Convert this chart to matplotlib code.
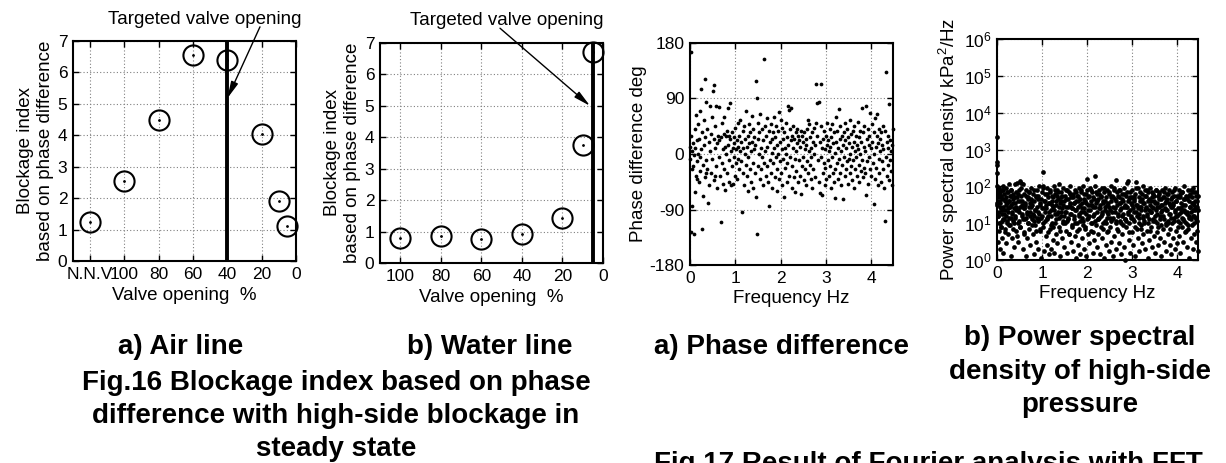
import numpy as np
import matplotlib
matplotlib.use("Agg")
import matplotlib.pyplot as plt

plt.rcParams['font.family'] = ['Liberation Sans', 'DejaVu Sans']
plt.rcParams['mathtext.fontset'] = 'custom'
plt.rcParams['mathtext.rm'] = 'Liberation Sans'
plt.rcParams['mathtext.it'] = 'Liberation Sans:italic'
plt.rcParams['axes.unicode_minus'] = False

# Fig.16 a) air line  (120 on the axis stands for "N.N.V")
air_opening = [120, 100, 80, 60, 40, 20, 10, 5]
air_index = [1.25, 2.55, 4.5, 6.55, 6.38, 4.05, 1.92, 1.12]
air_target = 40
air_ticks = [120, 100, 80, 60, 40, 20, 0]
air_ticklabels = ['N.N.V', '100', '80', '60', '40', '20', '0']

# Fig.16 b) water line
water_opening = [100, 80, 60, 40, 20, 10, 5]
water_index = [0.81, 0.87, 0.76, 0.93, 1.42, 3.76, 6.7]
water_target = 5
water_ticks = [100, 80, 60, 40, 20, 0]

# Fig.17 a) phase difference (Hz, deg)
phase_hz = [
    0.00, 0.01, 0.02, 0.02, 0.03, 0.04, 0.05, 0.06, 0.07, 0.08,
    0.09, 0.10, 0.11, 0.12, 0.13, 0.14, 0.15, 0.16, 0.17, 0.18,
    0.19, 0.20, 0.21, 0.22, 0.23, 0.24, 0.25, 0.26, 0.27, 0.28,
    0.29, 0.30, 0.31, 0.32, 0.33, 0.34, 0.35, 0.36, 0.37, 0.38,
    0.40, 0.41, 0.42, 0.44, 0.45, 0.46, 0.47, 0.48, 0.49, 0.51,
    0.52, 0.53, 0.54, 0.55, 0.56, 0.57, 0.58, 0.59, 0.60, 0.62,
    0.63, 0.64, 0.65, 0.66, 0.68, 0.69, 0.70, 0.71, 0.72, 0.73,
    0.74, 0.75, 0.76, 0.77, 0.78, 0.79, 0.80, 0.81, 0.82, 0.83,
    0.84, 0.85, 0.86, 0.87, 0.88, 0.89, 0.90, 0.91, 0.92, 0.93,
    0.94, 0.95, 0.96, 0.97, 0.98, 0.99, 1.00, 1.01, 1.02, 1.03,
    1.04, 1.05, 1.06, 1.07, 1.08, 1.09, 1.10, 1.11, 1.12, 1.13,
    1.15, 1.16, 1.17, 1.18, 1.19, 1.20, 1.21, 1.22, 1.23, 1.24,
    1.25, 1.26, 1.27, 1.28, 1.29, 1.30, 1.31, 1.32, 1.33, 1.34,
    1.35, 1.36, 1.37, 1.38, 1.39, 1.40, 1.41, 1.42, 1.43, 1.44,
    1.45, 1.46, 1.47, 1.48, 1.49, 1.50, 1.51, 1.52, 1.53, 1.54,
    1.55, 1.56, 1.57, 1.58, 1.59, 1.60, 1.61, 1.63, 1.64, 1.65,
    1.66, 1.67, 1.68, 1.69, 1.70, 1.71, 1.72, 1.74, 1.75, 1.76,
    1.77, 1.78, 1.79, 1.80, 1.81, 1.82, 1.83, 1.84, 1.85, 1.86,
    1.87, 1.88, 1.89, 1.90, 1.91, 1.92, 1.93, 1.94, 1.95, 1.96,
    1.97, 1.98, 1.99, 2.00, 2.01, 2.02, 2.03, 2.04, 2.05, 2.06,
    2.07, 2.08, 2.09, 2.10, 2.11, 2.12, 2.13, 2.14, 2.15, 2.16,
    2.17, 2.18, 2.19, 2.20, 2.21, 2.22, 2.23, 2.24, 2.25, 2.26,
    2.27, 2.28, 2.29, 2.30, 2.31, 2.32, 2.33, 2.34, 2.35, 2.36,
    2.37, 2.38, 2.39, 2.40, 2.41, 2.42, 2.43, 2.44, 2.46, 2.47,
    2.48, 2.49, 2.50, 2.51, 2.52, 2.53, 2.54, 2.55, 2.56, 2.57,
    2.58, 2.59, 2.60, 2.61, 2.62, 2.63, 2.64, 2.65, 2.66, 2.67,
    2.68, 2.69, 2.70, 2.71, 2.72, 2.73, 2.74, 2.75, 2.76, 2.77,
    2.79, 2.80, 2.81, 2.82, 2.84, 2.85, 2.86, 2.87, 2.88, 2.89,
    2.90, 2.91, 2.92, 2.93, 2.94, 2.95, 2.96, 2.97, 2.98, 2.99,
    3.00, 3.01, 3.02, 3.03, 3.04, 3.05, 3.06, 3.07, 3.08, 3.09,
    3.10, 3.11, 3.12, 3.13, 3.14, 3.15, 3.16, 3.17, 3.18, 3.19,
    3.20, 3.21, 3.22, 3.23, 3.24, 3.25, 3.26, 3.27, 3.28, 3.29,
    3.30, 3.31, 3.32, 3.33, 3.34, 3.35, 3.36, 3.37, 3.38, 3.39,
    3.40, 3.41, 3.42, 3.43, 3.44, 3.45, 3.46, 3.47, 3.48, 3.49,
    3.50, 3.51, 3.52, 3.53, 3.54, 3.55, 3.56, 3.57, 3.58, 3.59,
    3.60, 3.61, 3.62, 3.63, 3.64, 3.65, 3.66, 3.67, 3.68, 3.69,
    3.70, 3.71, 3.72, 3.73, 3.74, 3.75, 3.76, 3.77, 3.78, 3.79,
    3.80, 3.81, 3.82, 3.83, 3.84, 3.85, 3.86, 3.87, 3.88, 3.89,
    3.90, 3.91, 3.92, 3.93, 3.94, 3.95, 3.96, 3.97, 3.98, 3.99,
    4.00, 4.01, 4.02, 4.03, 4.05, 4.06, 4.07, 4.08, 4.09, 4.10,
    4.11, 4.12, 4.13, 4.14, 4.15, 4.16, 4.17, 4.18, 4.19, 4.20,
    4.21, 4.22, 4.23, 4.24, 4.25, 4.26, 4.27, 4.28, 4.30, 4.31,
    4.32, 4.33, 4.34, 4.35, 4.36, 4.37, 4.38, 4.39, 4.40, 4.41,
    4.42, 4.43, 4.44, 4.45, 4.46, 4.47, 0.05, 0.15, 0.35, 0.55,
]
phase_deg = [
    12, -8, 165, -127, 30, -84, 5, -20, 18, -2,
    -130, 40, -62, 10, 63, -35, 22, -12, 48, 0,
    -45, 25, -5, 70, -28, 105, 8, -122, 35, -18,
    -68, 15, 55, 121, -38, 28, -10, 85, 40, -25,
    -79, 20, -50, 78, 5, 32, -30, 60, -8, 102,
    25, 112, -42, 10, 45, -20, 78, 18, -55, 30,
    -5, 77, 22, -35, -110, 28, -15, 50, 8, -48,
    32, -25, 60, 12, -58, 30, 0, 38, -30, 75,
    15, -45, 30, -10, 82, 25, -50, 5, 35, -20,
    10, -48, 28, -5, 18, -35, 42, 8, -15, 22,
    -40, 12, 50, -8, 30, -25, 5, 55, -12, 20,
    -94, 38, -30, 10, -50, 45, 0, 25, -18, 70,
    12, -35, 30, -5, -60, 48, 18, -25, 35, 5,
    -45, 62, 20, -15, 40, -55, 8, 28, -30, 15,
    118, -70, -130, 91, 25, -20, 50, 0, 35, -40,
    65, 10, -25, 40, -5, -50, 22, 154, -15, 45,
    5, -35, 30, 58, -20, 12, -45, -84, 38, 20,
    -10, 48, -30, 25, 2, -55, 35, -15, 60, 10,
    -38, 28, -5, 45, -25, 15, -60, 38, 0, -40,
    68, 20, -12, 55, -30, 8, 42, -50, 25, -8,
    -70, 35, 10, -22, 50, 0, -45, 28, -15, 78,
    15, -35, 72, 40, -5, 75, 22, -55, 30, -20,
    10, 45, -38, 25, -8, -62, 35, 5, -28, 40,
    18, -45, 30, -10, 22, -35, 12, 38, -65, -20,
    30, -5, 20, -42, 35, 8, -25, 15, -50, 25,
    40, -12, 55, -30, 5, 48, -18, 28, -40, 10,
    -5, 35, -55, 20, -25, 42, 0, -38, 15, 50,
    114, 83, 30, -10, 84, -45, 20, -63, 113, -5,
    45, -67, 10, -30, 25, -15, 38, -50, 8, -22,
    30, -40, 15, 50, -10, 22, -35, 5, 40, -20,
    12, -55, 28, -5, 48, -30, 18, -45, 35, -72,
    2, -25, 60, 20, -15, 38, -40, 10, 73, -8,
    25, -30, 45, 5, -50, 30, -18, 15, -73, 35,
    -5, 22, -35, 50, 10, -25, 40, -12, 28, -48,
    18, -8, 55, 0, -30, 32, -20, 12, -42, 38,
    -10, 20, -55, 45, 5, -25, 30, -5, 15, -35,
    52, 8, -18, 28, -45, 38, 0, -28, 20, 75,
    -10, 35, -38, 12, -22, 45, 5, -30, 78, -66,
    25, -12, 40, -48, 15, -5, 30, -25, 66, 10,
    -35, 48, 20, -15, -81, 35, 0, -40, 58, 12,
    -22, 30, 65, -50, 18, -8, 40, -30, 5, 25,
    -45, 35, -12, 15, 45, -25, 8, -55, -108, 38,
    -5, 133, 20, -35, 10, -18, 30, -42, 81, -10,
    22, -28, 5, -50, 15, 40, -25, -40, -30, -35,
]

# Fig.17 b) PSD of high-side pressure (Hz, log10 of kPa^2/Hz), whole spread
psd_hz = [
    0.00, 0.00, 0.00, 0.00, 0.01, 0.01, 0.02, 0.02, 0.03, 0.03,
    0.04, 0.04, 0.05, 0.05, 0.06, 0.06, 0.07, 0.07, 0.08, 0.08,
    0.09, 0.10, 0.10, 0.11, 0.12, 0.12, 0.13, 0.14, 0.14, 0.15,
    0.16, 0.17, 0.17, 0.18, 0.19, 0.20, 0.20, 0.21, 0.22, 0.23,
    0.24, 0.24, 0.25, 0.26, 0.27, 0.27, 0.28, 0.29, 0.30, 0.31,
    0.31, 0.32, 0.33, 0.34, 0.35, 0.36, 0.36, 0.37, 0.38, 0.39,
    0.40, 0.41, 0.42, 0.42, 0.43, 0.44, 0.45, 0.46, 0.46, 0.47,
    0.48, 0.49, 0.50, 0.51, 0.52, 0.53, 0.54, 0.55, 0.56, 0.57,
    0.58, 0.59, 0.60, 0.61, 0.62, 0.63, 0.64, 0.65, 0.66, 0.67,
    0.68, 0.69, 0.70, 0.71, 0.72, 0.73, 0.74, 0.75, 0.76, 0.77,
    0.78, 0.79, 0.80, 0.81, 0.82, 0.83, 0.84, 0.85, 0.86, 0.87,
    0.88, 0.89, 0.90, 0.91, 0.92, 0.93, 0.94, 0.95, 0.96, 0.97,
    0.98, 0.99, 1.00, 1.01, 1.02, 1.03, 1.04, 1.05, 1.06, 1.07,
    1.08, 1.09, 1.10, 1.11, 1.12, 1.13, 1.14, 1.15, 1.16, 1.17,
    1.18, 1.19, 1.20, 1.21, 1.22, 1.23, 1.24, 1.25, 1.26, 1.27,
    1.28, 1.29, 1.30, 1.31, 1.32, 1.33, 1.34, 1.35, 1.36, 1.37,
    1.38, 1.39, 1.40, 1.41, 1.42, 1.43, 1.44, 1.45, 1.46, 1.47,
    1.48, 1.49, 1.50, 1.51, 1.52, 1.53, 1.54, 1.55, 1.56, 1.57,
    1.58, 1.59, 1.60, 1.61, 1.62, 1.63, 1.64, 1.65, 1.66, 1.67,
    1.68, 1.69, 1.70, 1.71, 1.72, 1.73, 1.74, 1.75, 1.76, 1.77,
    1.78, 1.79, 1.80, 1.81, 1.82, 1.83, 1.84, 1.85, 1.86, 1.87,
    1.88, 1.89, 1.90, 1.91, 1.92, 1.93, 1.94, 1.95, 1.96, 1.97,
    1.98, 1.99, 2.00, 2.01, 2.02, 2.03, 2.04, 2.05, 2.06, 2.07,
    2.08, 2.09, 2.10, 2.11, 2.12, 2.13, 2.14, 2.15, 2.16, 2.17,
    2.18, 2.19, 2.20, 2.21, 2.22, 2.23, 2.24, 2.25, 2.26, 2.27,
    2.28, 2.29, 2.30, 2.31, 2.32, 2.33, 2.34, 2.35, 2.36, 2.37,
    2.38, 2.39, 2.40, 2.41, 2.42, 2.43, 2.44, 2.45, 2.46, 2.47,
    2.48, 2.49, 2.50, 2.51, 2.52, 2.53, 2.54, 2.55, 2.56, 2.57,
    2.58, 2.59, 2.60, 2.61, 2.62, 2.63, 2.64, 2.65, 2.66, 2.67,
    2.68, 2.69, 2.70, 2.71, 2.72, 2.73, 2.74, 2.75, 2.76, 2.77,
    2.78, 2.79, 2.80, 2.81, 2.82, 2.83, 2.84, 2.85, 2.86, 2.87,
    2.88, 2.89, 2.90, 2.91, 2.92, 2.93, 2.94, 2.95, 2.96, 2.97,
    2.98, 2.99, 3.00, 3.01, 3.02, 3.03, 3.04, 3.05, 3.06, 3.07,
    3.08, 3.09, 3.10, 3.11, 3.12, 3.13, 3.14, 3.15, 3.16, 3.17,
    3.18, 3.19, 3.20, 3.21, 3.22, 3.23, 3.24, 3.25, 3.26, 3.27,
    3.28, 3.29, 3.30, 3.31, 3.32, 3.33, 3.34, 3.35, 3.36, 3.37,
    3.38, 3.39, 3.40, 3.41, 3.42, 3.43, 3.44, 3.45, 3.46, 3.47,
    3.48, 3.49, 3.50, 3.51, 3.52, 3.53, 3.54, 3.55, 3.56, 3.57,
    3.58, 3.59, 3.60, 3.61, 3.62, 3.63, 3.64, 3.65, 3.66, 3.67,
    3.68, 3.69, 3.70, 3.71, 3.72, 3.73, 3.74, 3.75, 3.76, 3.77,
    3.78, 3.79, 3.80, 3.81, 3.82, 3.83, 3.84, 3.85, 3.86, 3.87,
    3.88, 3.89, 3.90, 3.91, 3.92, 3.93, 3.94, 3.95, 3.96, 3.97,
    3.98, 3.99, 4.00, 4.01, 4.02, 4.03, 4.04, 4.05, 4.06, 4.07,
    4.08, 4.09, 4.10, 4.11, 4.12, 4.13, 4.14, 4.15, 4.16, 4.17,
    4.18, 4.19, 4.20, 4.21, 4.22, 4.23, 4.24, 4.25, 4.26, 4.27,
    4.28, 4.29, 4.30, 4.31, 4.32, 4.33, 4.34, 4.35, 4.36, 4.37,
    4.38, 4.39, 4.40, 4.41, 4.42, 4.43, 4.44, 4.45, 4.46, 4.46,
]
psd_log = [
    3.35, 2.67, 2.58, 2.36, 2.0, 1.5, 1.9, 0.5, 1.7, 1.2,
    1.95, 0.8, 1.6, 1.3, 0.3, 1.85, 1.0, 1.55, 1.75, 0.9,
    1.4, 1.9, 0.6, 1.25, 1.65, 1.05, 2.0, 1.45, 0.2, 1.8,
    1.1, 1.6, 1.35, 0.85, 1.7, 1.95, 1.2, 0.45, 1.55, 1.0,
    1.85, 1.3, 0.7, 1.6, 2.05, 1.15, 1.45, 0.95, 1.75, 0.1,
    1.5, 1.9, 1.25, 0.6, 1.65, 1.05, 1.8, 1.4, 0.35, 2.05,
    1.55, 1.15, 1.85, 0.8, 1.35, 1.7, 2.1, 1.0, 1.6, 0.5,
    1.9, 1.3, 2.15, 1.45, 0.9, 1.75, 2.1, 1.2, 1.6, 0.3,
    2.05, 1.4, 0.75, 1.8, 1.1, 1.55, 0.1, 1.9, 1.25, 0.6,
    1.7, 1.0, 1.45, 1.85, 0.85, 1.3, 0.4, 1.65, 1.95, 1.1,
    1.5, 0.7, 1.8, 1.2, 0.15, 1.6, 1.35, 0.95, 1.75, 0.5,
    1.9, 1.45, 1.05, 0.3, 1.65, 1.25, 2.0, 0.8, 1.55, 1.15,
    0.05, 1.85, 1.4, 2.0, 2.4, 0.9, 1.6, 0.25, 1.3, 1.8,
    0.65, 1.5, 1.1, 1.95, 0.4, 1.7, 1.2, 0.15, 1.55, 0.85,
    1.9, 1.35, 0.3, 1.75, 1.0, 1.6, 0.55, 1.45, 2.0, 0.2,
    1.25, 1.8, 0.7, 1.5, 1.1, 1.9, 0.45, 1.65, 1.3, 2.05,
    0.9, 1.55, 0.1, 1.85, 1.2, 1.7, 0.6, 1.4, 1.95, 1.0,
    1.6, 0.35, 1.75, 1.3, 0.8, 1.9, 1.45, 1.05, 0.2, 1.65,
    1.15, 1.85, 0.7, 1.5, 2.0, 1.25, 0.5, 1.7, 0.95, 1.4,
    0.25, 1.8, 1.1, 1.55, 0.65, 1.9, 1.35, 0.05, 1.6, 1.0,
    1.75, 0.4, 1.45, 1.95, 0.85, 1.2, 1.65, 0.15, 1.85, 1.3,
    0.6, 1.55, 1.05, 2.0, 0.3, 1.4, 1.8, 0.9, 1.6, 0.1,
    1.25, 1.9, 2.2, 0.7, 1.5, 1.15, 1.75, 0.45, 1.35, 1.95,
    0.8, 1.6, 1.0, 1.85, 0.2, 1.45, 1.7, 0.55, 1.25, 2.0,
    2.27, 0.95, 1.55, 0.35, 1.8, 1.1, 1.65, 0.7, 1.4, 1.9,
    0.15, 1.5, 1.2, 1.75, 0.6, 1.95, 1.3, 0.85, 1.6, 0.05,
    1.85, 1.05, 1.45, 0.4, 1.7, 1.15, 1.9, 0.75, 1.55, 1.25,
    0.25, 1.8, 1.35, 0.9, 2.0, 1.6, 0.5, 1.1, 1.75, 0.1,
    1.45, 1.95, 0.65, 1.3, 1.65, 0.3, 2.18, 1.0, 1.85, 1.5,
    0.8, 1.2, 1.7, 0.45, 1.55, 1.9, 1.05, 0.15, 1.4, 1.8,
    0.7, 1.6, 1.25, 1.95, 0.35, 1.5, 1.1, 0.0, 1.75, 0.9,
    1.45, 2.1, 2.15, 1.3, 0.55, 1.65, 1.0, 1.85, 0.2, 1.55,
    1.2, 0.75, 1.9, 1.4, 0.4, 1.7, 1.05, 1.6, 0.1, 1.8,
    1.3, 2.13, 0.85, 1.5, 1.95, 0.6, 1.15, 1.7, 0.25, 1.45,
    1.85, 0.95, 1.35, 1.65, 0.45, 2.0, 1.2, 0.7, 1.55, 1.0,
    1.9, 0.3, 1.4, 1.75, 0.8, 1.25, 1.6, 0.05, 1.85, 1.1,
    0.55, 1.5, 1.95, 0.9, 1.3, 1.7, 0.35, 1.45, 1.05, 1.8,
    0.65, 1.6, 1.2, 0.2, 1.9, 1.35, 0.75, 1.55, 1.0, 1.75,
    0.4, 1.45, 1.85, 1.1, 0.6, 1.65, 1.3, 0.1, 1.9, 1.5,
    0.85, 1.2, 1.7, 0.5, 1.4, 1.95, 0.95, 1.6, 0.25, 1.35,
    1.8, 1.05, 0.7, 1.55, 1.9, 0.4, 1.25, 1.65, 0.15, 1.45,
    1.0, 1.85, 0.6, 1.5, 1.15, 1.75, 0.3, 1.35, 1.95, 0.8,
    1.6, 1.2, 0.45, 1.7, 1.05, 1.9, 0.65, 1.4, 1.8, 0.2,
    1.3, 1.55, 0.9, 1.85, 1.1, 0.5, 1.65, 1.35, 2.0, 0.75,
    1.5, 1.0, 1.75, 0.35, 1.25, 1.9, 0.85, 1.6, 1.15, 0.05,
    1.45, 1.8, 0.6, 1.3, 1.7, 0.95, 1.55, 0.3, 1.95, 1.2,
    0.7, 1.4, 1.85, 0.5, 1.1, 1.6, 0.8, 1.35, 0.25, 1.75,
]

# Fig.17 b) extra points of the dense 10..80 kPa^2/Hz band
psd_hz_band = [
    0.005, 0.02, 0.035, 0.05, 0.065, 0.08, 0.095, 0.11, 0.125, 0.14,
    0.155, 0.17, 0.185, 0.20, 0.215, 0.23, 0.245, 0.26, 0.275, 0.29,
    0.305, 0.32, 0.335, 0.35, 0.365, 0.38, 0.395, 0.41, 0.425, 0.44,
    0.455, 0.47, 0.485, 0.50, 0.515, 0.53, 0.545, 0.56, 0.575, 0.59,
    0.605, 0.62, 0.635, 0.65, 0.665, 0.68, 0.695, 0.71, 0.725, 0.74,
    0.755, 0.77, 0.785, 0.80, 0.815, 0.83, 0.845, 0.86, 0.875, 0.89,
    0.905, 0.92, 0.935, 0.95, 0.965, 0.98, 0.995, 1.01, 1.025, 1.04,
    1.055, 1.07, 1.085, 1.10, 1.115, 1.13, 1.145, 1.16, 1.175, 1.19,
    1.205, 1.22, 1.235, 1.25, 1.265, 1.28, 1.295, 1.31, 1.325, 1.34,
    1.355, 1.37, 1.385, 1.40, 1.415, 1.43, 1.445, 1.46, 1.475, 1.49,
    1.505, 1.52, 1.535, 1.55, 1.565, 1.58, 1.595, 1.61, 1.625, 1.64,
    1.655, 1.67, 1.685, 1.70, 1.715, 1.73, 1.745, 1.76, 1.775, 1.79,
    1.805, 1.82, 1.835, 1.85, 1.865, 1.88, 1.895, 1.91, 1.925, 1.94,
    1.955, 1.97, 1.985, 2.00, 2.015, 2.03, 2.045, 2.06, 2.075, 2.09,
    2.105, 2.12, 2.135, 2.15, 2.165, 2.18, 2.195, 2.21, 2.225, 2.24,
    2.255, 2.27, 2.285, 2.30, 2.315, 2.33, 2.345, 2.36, 2.375, 2.39,
    2.405, 2.42, 2.435, 2.45, 2.465, 2.48, 2.495, 2.51, 2.525, 2.54,
    2.555, 2.57, 2.585, 2.60, 2.615, 2.63, 2.645, 2.66, 2.675, 2.69,
    2.705, 2.72, 2.735, 2.75, 2.765, 2.78, 2.795, 2.81, 2.825, 2.84,
    2.855, 2.87, 2.885, 2.90, 2.915, 2.93, 2.945, 2.96, 2.975, 2.99,
    3.005, 3.02, 3.035, 3.05, 3.065, 3.08, 3.095, 3.11, 3.125, 3.14,
    3.155, 3.17, 3.185, 3.20, 3.215, 3.23, 3.245, 3.26, 3.275, 3.29,
    3.305, 3.32, 3.335, 3.35, 3.365, 3.38, 3.395, 3.41, 3.425, 3.44,
    3.455, 3.47, 3.485, 3.50, 3.515, 3.53, 3.545, 3.56, 3.575, 3.59,
    3.605, 3.62, 3.635, 3.65, 3.665, 3.68, 3.695, 3.71, 3.725, 3.74,
    3.755, 3.77, 3.785, 3.80, 3.815, 3.83, 3.845, 3.86, 3.875, 3.89,
    3.905, 3.92, 3.935, 3.95, 3.965, 3.98, 3.995, 4.01, 4.025, 4.04,
    4.055, 4.07, 4.085, 4.10, 4.115, 4.13, 4.145, 4.16, 4.175, 4.19,
    4.205, 4.22, 4.235, 4.25, 4.265, 4.28, 4.295, 4.31, 4.325, 4.34,
    4.35, 4.36, 4.37, 4.38, 4.39, 4.40, 4.41, 4.42, 4.43, 4.44,
]
psd_log_band = [
    1.55, 1.2, 1.8, 1.0, 1.45, 1.7, 0.9, 1.35, 1.9, 1.1,
    1.25, 1.65, 0.75, 1.5, 1.85, 1.05, 1.4, 1.6, 0.95, 1.75,
    1.15, 1.9, 1.3, 0.85, 1.55, 1.0, 1.7, 1.2, 1.45, 0.65,
    1.8, 1.35, 1.05, 1.6, 0.9, 1.95, 1.25, 1.5, 1.1, 1.4,
    0.7, 1.5, 1.75, 1.15, 1.3, 1.65, 1.0, 1.85, 1.2, 1.55,
    1.45, 0.95, 1.6, 1.25, 1.9, 1.05, 1.35, 0.8, 1.7, 1.15,
    1.3, 1.75, 1.1, 1.5, 0.85, 1.65, 1.2, 1.95, 1.0, 1.4,
    1.6, 1.05, 1.4, 1.8, 1.15, 0.75, 1.55, 1.3, 1.85, 0.95,
    1.2, 1.5, 0.9, 1.7, 1.35, 1.9, 1.0, 1.6, 1.25, 1.75,
    1.85, 1.15, 1.45, 0.8, 1.6, 1.3, 1.75, 1.05, 1.5, 1.2,
    1.0, 1.65, 1.3, 1.9, 1.1, 1.45, 0.7, 1.55, 1.8, 1.25,
    1.4, 0.9, 1.7, 1.2, 1.55, 1.0, 1.85, 1.35, 0.8, 1.6,
    1.75, 1.25, 1.05, 1.5, 1.9, 1.15, 1.4, 0.95, 1.65, 1.3,
    0.85, 1.55, 1.8, 1.1, 1.35, 1.7, 1.2, 1.5, 1.0, 1.9,
    1.5, 1.2, 0.75, 1.65, 1.05, 1.45, 1.85, 1.3, 1.6, 1.1,
    1.15, 1.8, 1.4, 0.9, 1.7, 1.25, 1.0, 1.55, 1.95, 1.35,
    1.6, 1.0, 1.5, 1.3, 0.8, 1.85, 1.45, 1.15, 1.7, 1.05,
    1.3, 1.7, 1.15, 1.9, 1.4, 1.05, 1.6, 0.85, 1.25, 1.75,
    1.9, 1.35, 1.55, 1.0, 1.2, 1.65, 0.95, 1.8, 1.45, 1.1,
    1.05, 1.45, 1.85, 1.25, 1.6, 0.75, 1.35, 1.7, 1.15, 1.5,
    1.7, 1.1, 1.3, 1.65, 0.9, 1.5, 1.95, 1.2, 1.4, 1.0,
    1.25, 1.6, 0.85, 1.45, 1.8, 1.15, 1.55, 1.05, 1.75, 1.35,
    1.45, 1.9, 1.2, 1.0, 1.65, 1.35, 0.8, 1.6, 1.3, 1.85,
    1.1, 1.4, 1.75, 1.55, 1.05, 1.9, 1.25, 1.45, 0.9, 1.65,
    1.8, 1.2, 1.5, 0.95, 1.35, 1.7, 1.1, 1.85, 1.55, 1.0,
    1.35, 1.65, 1.0, 1.8, 1.25, 0.85, 1.5, 1.15, 1.7, 1.45,
    1.55, 1.05, 1.9, 1.3, 1.6, 1.2, 1.75, 0.9, 1.4, 1.25,
    1.0, 1.7, 1.4, 1.15, 1.85, 1.5, 1.05, 1.65, 1.3, 0.8,
    1.65, 1.3, 0.95, 1.75, 1.2, 1.45, 1.9, 1.1, 1.55, 1.35,
    1.2, 1.85, 1.5, 1.0, 1.6, 1.35, 1.75, 1.15, 1.45, 1.05,
]

W, H = 1226, 463
fig = plt.figure(figsize=(W / 100, H / 100), dpi=100)


def px_axes(left, top, right, bottom):
    return fig.add_axes([left / W, 1 - bottom / H, (right - left) / W, (bottom - top) / H])


def matlab_style(ax):
    ax.grid(True, linestyle=(0, (1, 2)), color='#808080', linewidth=0.8)
    ax.set_axisbelow(True)
    ax.tick_params(direction='in', top=True, right=True, labelsize=12.5,
                   length=4, width=1, pad=4)
    for s in ax.spines.values():
        s.set_linewidth(1.5)


LAB = 13.5
arrow_kw = dict(arrowstyle='-|>,head_length=1.0,head_width=0.22', color='k',
                lw=1.0, shrinkA=0, shrinkB=0)

# ---- Fig.16 a) air line
ax1 = px_axes(73, 41, 296, 261)
matlab_style(ax1)
ax1.plot([air_target, air_target], [0, 7], color='k', lw=2.8, zorder=3)
ax1.plot(air_opening, air_index, 'o', ms=14.5, mfc='none', mec='k', mew=1.5,
         clip_on=False, zorder=4)
ax1.plot(air_opening, air_index, '.', ms=2, color='k', clip_on=False, zorder=4)
ax1.set_xlim(130, 0)
ax1.set_ylim(0, 7)
ax1.set_xticks(air_ticks)
ax1.set_xticklabels(air_ticklabels)
ax1.set_yticks(range(0, 8))
ax1.set_xlabel('Valve opening  %', fontsize=LAB, labelpad=4)
ax1.set_ylabel('Blockage index\nbased on phase difference', fontsize=LAB, labelpad=3)
ax1.annotate('', xy=(40, 5.18), xytext=(21, 7.45), arrowprops=arrow_kw,
             annotation_clip=False)
ax1.text(53, 7.67, 'Targeted valve opening', ha='center', va='center',
         fontsize=LAB, clip_on=False)

# ---- Fig.16 b) water line
ax2 = px_axes(380, 43, 603, 263)
matlab_style(ax2)
ax2.plot([water_target, water_target], [0, 7], color='k', lw=2.8, zorder=3)
ax2.plot(water_opening, water_index, 'o', ms=14.5, mfc='none', mec='k', mew=1.5,
         clip_on=False, zorder=4)
ax2.plot(water_opening, water_index, '.', ms=2, color='k', clip_on=False, zorder=4)
ax2.set_xlim(110, 0)
ax2.set_ylim(0, 7)
ax2.set_xticks(water_ticks)
ax2.set_yticks(range(0, 8))
ax2.set_xlabel('Valve opening  %', fontsize=LAB, labelpad=4)
ax2.set_ylabel('Blockage index\nbased on phase difference', fontsize=LAB, labelpad=3)
ax2.annotate('', xy=(6.4, 5.0), xytext=(50.8, 7.47), arrowprops=arrow_kw,
             annotation_clip=False)
ax2.text(47.4, 7.73, 'Targeted valve opening', ha='center', va='center',
         fontsize=LAB, clip_on=False)

# ---- Fig.17 a) phase difference
ax3 = px_axes(690, 43, 893, 265)
matlab_style(ax3)
ax3.plot(phase_hz, phase_deg, 'o', ms=2.7, color='k', mew=0, clip_on=False)
ax3.set_xlim(0, 4.48)
ax3.set_ylim(-180, 180)
ax3.set_xticks([0, 1, 2, 3, 4])
ax3.set_yticks([-180, -90, 0, 90, 180])
ax3.set_xlabel('Frequency Hz', fontsize=LAB, labelpad=3)
ax3.set_ylabel('Phase difference deg', fontsize=LAB, labelpad=2)

# ---- Fig.17 b) PSD
ax4 = px_axes(997, 39, 1198, 260)
matlab_style(ax4)
ax4.plot(psd_hz, 10 ** np.array(psd_log), 'o', ms=3.4, color='k', mew=0, clip_on=False)
ax4.plot(psd_hz_band, 10 ** np.array(psd_log_band), 'o', ms=3.4, color='k', mew=0,
         clip_on=False)
ax4.set_yscale('log')
ax4.set_xlim(0, 4.46)
ax4.set_ylim(1, 1e6)
ax4.set_xticks([0, 1, 2, 3, 4])
ax4.set_yticks([1e0, 1e1, 1e2, 1e3, 1e4, 1e5, 1e6])
ax4.minorticks_off()
ax4.set_xlabel('Frequency Hz', fontsize=LAB, labelpad=3)
ax4.set_ylabel('Power spectral density kPa$^2$/Hz', fontsize=LAB, labelpad=2)

# ---- captions
CAP = 20


def cap(x, y, s):
    fig.text(x / W, 1 - y / H, s, ha='center', va='center', fontsize=CAP,
             fontweight='bold')


cap(181, 347, 'a) Air line')
cap(490, 347, 'b) Water line')
cap(336, 383, 'Fig.16 Blockage index based on phase')
cap(336, 416, 'difference with high-side blockage in')
cap(336, 449, 'steady state')
cap(781, 347, 'a) Phase difference')
cap(1080, 338, 'b) Power spectral')
cap(1080, 372, 'density of high-side')
cap(1080, 405, 'pressure')
fig.text(928 / W, 1 - 451 / H, 'Fig.17 Result of Fourier analysis with FFT',
         ha='center', va='top', fontsize=CAP, fontweight='bold')

fig.savefig('out.png', dpi=100)
